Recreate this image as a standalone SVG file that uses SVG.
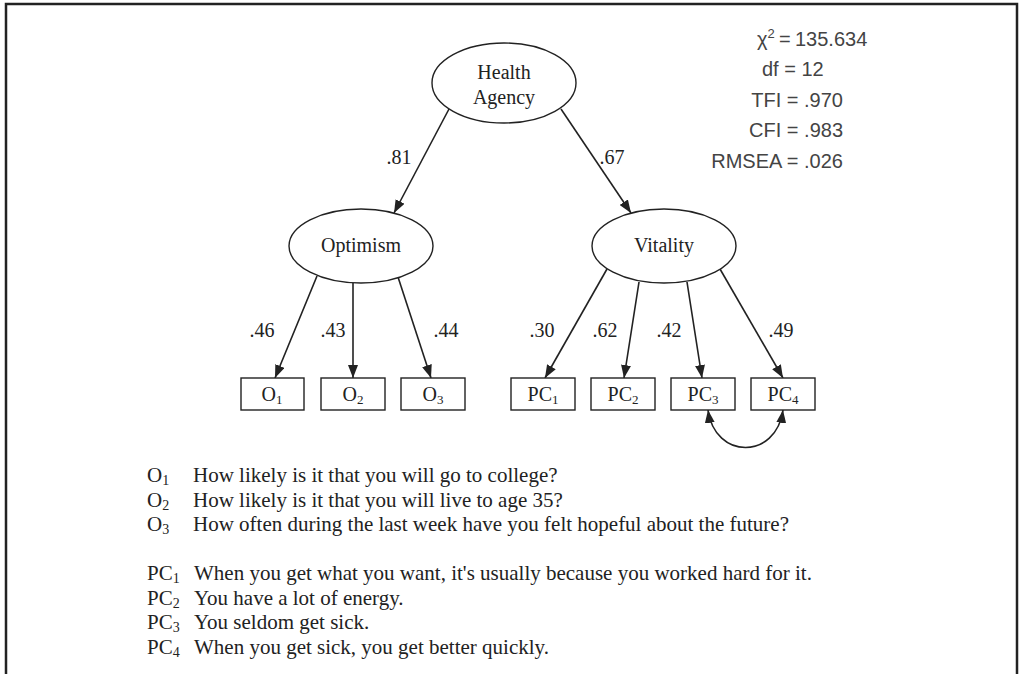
<svg xmlns="http://www.w3.org/2000/svg" width="1020" height="674" viewBox="0 0 1020 674">
<style>
.frame{fill:none;stroke:#222;stroke-width:2.5}
.node ellipse,.node rect{fill:#fff;stroke:#222;stroke-width:1.4}
.lab{font-family:"Liberation Serif","Times New Roman",serif;font-size:20px;fill:#222;text-anchor:middle}
.leg{font-family:"Liberation Serif","Times New Roman",serif;font-size:21px;fill:#222}
.sub{font-size:13px}
.lsub{font-size:14px}
.stat{font-family:"Liberation Sans",Arial,sans-serif;font-size:20px;fill:#444}
.edge{fill:none;stroke:#222;stroke-width:1.6}
</style>
<defs>
<marker id="ah" viewBox="0 0 13 10" refX="13" refY="5" markerWidth="13" markerHeight="10" markerUnits="userSpaceOnUse" orient="auto-start-reverse">
<path d="M0,0 L13,5 L0,10 z" fill="#222"/>
</marker>
</defs>
<rect width="1020" height="674" fill="#fff"/>
<path class="frame" d="M6,674 V4 H1017 V674"/>

<g id="stats">
<text class="stat" x="757" y="46">χ<tspan font-size="13px" dy="-8">2</tspan></text>
<text class="stat" x="779" y="46">=</text>
<text class="stat" x="795" y="46">135.634</text>
<text class="stat" x="762" y="76">df = 12</text>
<text class="stat" x="843" y="107" text-anchor="end">TFI = .970</text>
<text class="stat" x="843" y="137" text-anchor="end">CFI = .983</text>
<text class="stat" x="843" y="168" text-anchor="end">RMSEA = .026</text>
</g>

<g id="connectors">
<line class="edge" x1="449" y1="109" x2="394" y2="213" marker-end="url(#ah)"/>
<line class="edge" x1="561" y1="109" x2="631" y2="213" marker-end="url(#ah)"/>
<line class="edge" x1="317" y1="276" x2="275" y2="378" marker-end="url(#ah)"/>
<line class="edge" x1="353" y1="283" x2="353" y2="378" marker-end="url(#ah)"/>
<line class="edge" x1="398" y1="277" x2="431" y2="378" marker-end="url(#ah)"/>
<line class="edge" x1="607" y1="269" x2="545" y2="378" marker-end="url(#ah)"/>
<line class="edge" x1="639" y1="282" x2="624" y2="378" marker-end="url(#ah)"/>
<line class="edge" x1="687" y1="282" x2="702" y2="378" marker-end="url(#ah)"/>
<line class="edge" x1="720" y1="269" x2="783" y2="378" marker-end="url(#ah)"/>
<path class="edge" d="M708,410 C715,460 776,460 783,410" marker-start="url(#ah)" marker-end="url(#ah)"/>
</g>

<g id="edge-labels">
<text class="lab" x="399" y="164">.81</text>
<text class="lab" x="612" y="164">.67</text>
<text class="lab" x="262" y="337">.46</text>
<text class="lab" x="333" y="337">.43</text>
<text class="lab" x="446" y="337">.44</text>
<text class="lab" x="542" y="337">.30</text>
<text class="lab" x="605" y="337">.62</text>
<text class="lab" x="669" y="337">.42</text>
<text class="lab" x="781" y="337">.49</text>
</g>

<g id="health-agency" class="node">
<ellipse cx="504" cy="83" rx="72" ry="40"/>
<text class="lab" x="504" y="79">Health</text>
<text class="lab" x="504" y="104">Agency</text>
</g>
<g id="optimism" class="node">
<ellipse cx="361" cy="246" rx="72" ry="37"/>
<text class="lab" x="361" y="252">Optimism</text>
</g>
<g id="vitality" class="node">
<ellipse cx="664" cy="246" rx="72" ry="37"/>
<text class="lab" x="664" y="252">Vitality</text>
</g>
<g id="o1" class="node"><rect x="241" y="378" width="63" height="32"/><text class="lab" x="272" y="401">O<tspan class="sub" dy="3">1</tspan></text></g>
<g id="o2" class="node"><rect x="321" y="378" width="64" height="32"/><text class="lab" x="353" y="401">O<tspan class="sub" dy="3">2</tspan></text></g>
<g id="o3" class="node"><rect x="401" y="378" width="64" height="32"/><text class="lab" x="433" y="401">O<tspan class="sub" dy="3">3</tspan></text></g>
<g id="pc1" class="node"><rect x="511" y="378" width="64" height="32"/><text class="lab" x="543" y="401">PC<tspan class="sub" dy="3">1</tspan></text></g>
<g id="pc2" class="node"><rect x="591" y="378" width="64" height="32"/><text class="lab" x="623" y="401">PC<tspan class="sub" dy="3">2</tspan></text></g>
<g id="pc3" class="node"><rect x="671" y="378" width="64" height="32"/><text class="lab" x="703" y="401">PC<tspan class="sub" dy="3">3</tspan></text></g>
<g id="pc4" class="node"><rect x="751" y="378" width="64" height="32"/><text class="lab" x="783" y="401">PC<tspan class="sub" dy="3">4</tspan></text></g>

<g id="legend">
<text class="leg" x="147" y="482">O<tspan class="lsub" dy="3">1</tspan></text><text class="leg" x="193" y="482">How likely is it that you will go to college?</text>
<text class="leg" x="147" y="506.5">O<tspan class="lsub" dy="3">2</tspan></text><text class="leg" x="193" y="506.5">How likely is it that you will live to age 35?</text>
<text class="leg" x="147" y="531">O<tspan class="lsub" dy="3">3</tspan></text><text class="leg" x="193" y="531">How often during the last week have you felt hopeful about the future?</text>
<text class="leg" x="147" y="580">PC<tspan class="lsub" dy="3">1</tspan></text><text class="leg" x="194" y="580">When you get what you want, it's usually because you worked hard for it.</text>
<text class="leg" x="147" y="604.5">PC<tspan class="lsub" dy="3">2</tspan></text><text class="leg" x="194" y="604.5">You have a lot of energy.</text>
<text class="leg" x="147" y="629">PC<tspan class="lsub" dy="3">3</tspan></text><text class="leg" x="194" y="629">You seldom get sick.</text>
<text class="leg" x="147" y="653.5">PC<tspan class="lsub" dy="3">4</tspan></text><text class="leg" x="194" y="653.5">When you get sick, you get better quickly.</text>
</g>
</svg>
